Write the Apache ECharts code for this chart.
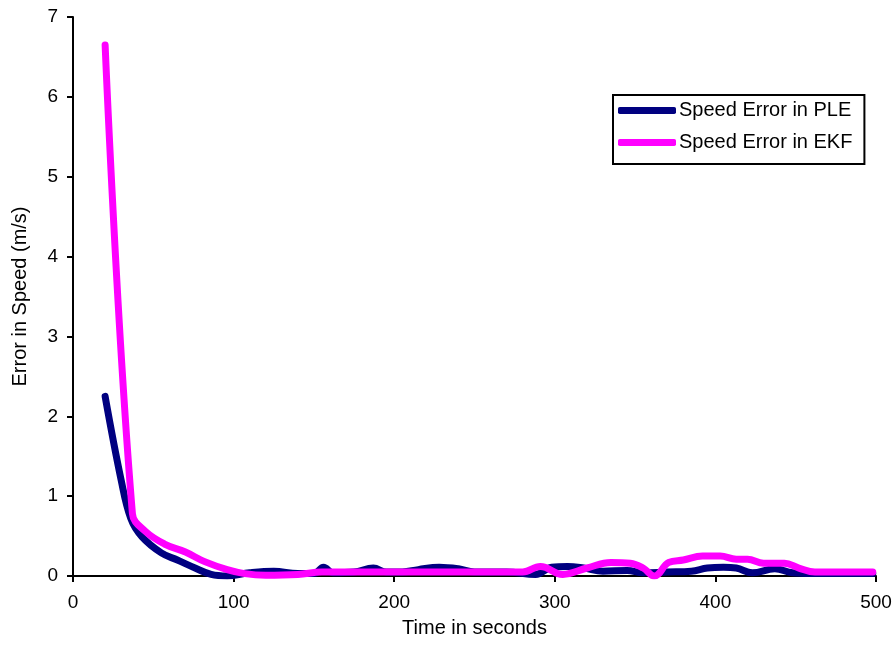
<!DOCTYPE html>
<html>
<head>
<meta charset="utf-8">
<title>Speed Error</title>
<script src="https://cdn.jsdelivr.net/npm/echarts@6/dist/echarts.min.js"></script>
<style>
  html, body { margin: 0; padding: 0; background: #ffffff; }
  #chart { width: 896px; height: 651px; }
</style>
</head>
<body>
<div id="chart"></div>
<script>
// Speed error of the PLE estimator over time (seconds, m/s)
const pleTime  = [20, 30, 36, 43, 55, 65, 76, 86, 96, 110, 125, 140, 150, 156, 162, 175, 187, 195, 205, 215, 228, 240, 250, 270, 288, 298, 308, 318, 330, 345, 355, 370, 385, 395, 405, 413, 423, 437, 448, 460, 480, 498];
const pleSpeed = [2.25, 1.20, 0.72, 0.49, 0.29, 0.20, 0.10, 0.02, 0.0, 0.04, 0.06, 0.03, 0.03, 0.11, 0.04, 0.05, 0.10, 0.05, 0.05, 0.08, 0.11, 0.09, 0.05, 0.05, 0.02, 0.11, 0.12, 0.10, 0.06, 0.07, 0.04, 0.05, 0.06, 0.10, 0.11, 0.10, 0.04, 0.09, 0.04, 0.03, 0.03, 0.03];

// Speed error of the EKF over time (seconds, m/s)
const ekfTime  = [20, 37, 45, 57, 70, 82, 96, 107, 120, 140, 155, 170, 200, 230, 260, 280, 291, 305, 320, 335, 347, 355, 362, 371, 380, 392, 403, 413, 420, 430, 443, 452, 462, 480, 498];
const ekfSpeed = [6.65, 0.78, 0.56, 0.40, 0.30, 0.18, 0.08, 0.03, 0.01, 0.02, 0.05, 0.05, 0.05, 0.05, 0.05, 0.05, 0.12, 0.02, 0.10, 0.17, 0.16, 0.10, 0.0, 0.17, 0.20, 0.25, 0.25, 0.21, 0.21, 0.16, 0.16, 0.10, 0.05, 0.05, 0.05];

const seriesNames = ['Speed Error in PLE', 'Speed Error in EKF'];
const xAxisTitle = 'Time in seconds';
const yAxisTitle = 'Error in Speed (m/s)';

const pair = (xs, ys) => xs.map((x, i) => [x, ys[i]]);

const FONT = '"Liberation Sans", Arial, sans-serif';
const axisLine = { show: true, lineStyle: { color: '#000', width: 2 } };
const axisTick = { show: true, inside: false, length: 6, lineStyle: { color: '#000', width: 2 } };

const chart = echarts.init(document.getElementById('chart'), null, { renderer: 'canvas' });
chart.setOption({
  animation: false,
  backgroundColor: '#ffffff',
  grid: { left: 73, right: 20, top: 17, bottom: 75, containLabel: false },
  xAxis: {
    type: 'value',
    min: 0, max: 500, interval: 100,
    name: xAxisTitle,
    nameLocation: 'middle',
    nameGap: 42,
    nameTextStyle: { color: '#000', fontFamily: FONT, fontSize: 20 },
    axisLine, axisTick,
    axisLabel: { color: '#000', fontFamily: FONT, fontSize: 19, margin: 17 },
    splitLine: { show: false }
  },
  yAxis: {
    type: 'value',
    min: 0, max: 7, interval: 1,
    name: yAxisTitle,
    nameLocation: 'middle',
    nameGap: 43,
    nameTextStyle: { color: '#000', fontFamily: FONT, fontSize: 20 },
    axisLine, axisTick,
    axisLabel: { color: '#000', fontFamily: FONT, fontSize: 19, margin: 15 },
    splitLine: { show: false }
  },
  legend: {
    orient: 'vertical',
    left: 613, top: 95,
    data: seriesNames,
    icon: 'roundRect',
    itemWidth: 58, itemHeight: 7,
    itemGap: 11,
    padding: [5, 12, 11, 5],
    borderColor: '#000', borderWidth: 2,
    backgroundColor: '#fff',
    textStyle: { color: '#000', fontFamily: FONT, fontSize: 20, lineHeight: 21, padding: [0, 0, 0, -2] }
  },
  series: [
    {
      name: seriesNames[0],
      type: 'line',
      data: pair(pleTime, pleSpeed),
      smooth: 0.4,
      showSymbol: false,
      color: '#000080',
      lineStyle: { color: '#000080', width: 7, cap: 'round', join: 'round' }
    },
    {
      name: seriesNames[1],
      type: 'line',
      data: pair(ekfTime, ekfSpeed),
      smooth: 0.4,
      showSymbol: false,
      color: '#ff00ff',
      lineStyle: { color: '#ff00ff', width: 7, cap: 'round', join: 'round' }
    }
  ]
});
</script>
</body>
</html>
